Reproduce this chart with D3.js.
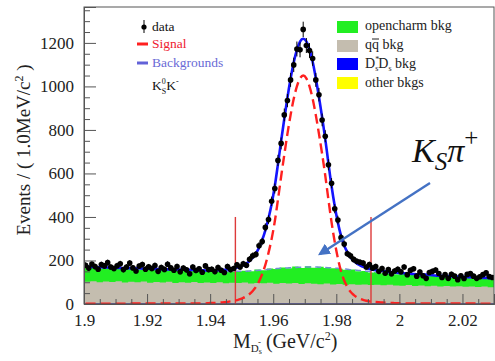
<!DOCTYPE html>
<html><head><meta charset="utf-8">
<script src="https://cdn.jsdelivr.net/npm/d3@7"></script>
<style>body{margin:0;background:#fff}svg{display:block}text{font-family:"Liberation Serif","Times New Roman",serif}</style>
</head><body><svg id="c" width="495" height="361"></svg>
<script>
// ---------------- data ----------------
const xStart = 1.9;          // first bin low edge (GeV)
const binW = 0.001;          // data / fit bin width
const stackW = 0.002;        // MC stack bin width
const xTicks = [1.9, 1.92, 1.94, 1.96, 1.98, 2.0, 2.02];
const xTickLabels = ["1.9", "1.92", "1.94", "1.96", "1.98", "2", "2.02"];
const yTicks = [0, 200, 400, 600, 800, 1000, 1200];

const dataCounts = [
 178,165,184,172,160,181,175,190,170,163,
 176,185,158,170,188,166,152,174,181,160,
 171,163,177,150,168,159,183,166,155,172,
 148,165,157,139,170,154,162,146,175,158,
 160,149,168,155,145,172,158,163,180,170,
 185,178,206,222,228,268,287,352,388,472,
 531,660,738,869,935,1030,1099,1172,1168,1262,
 1188,1165,1128,1030,962,846,771,640,555,438,
 386,305,276,231,222,205,196,192,188,170,
 181,165,172,150,163,141,158,139,152,160,
 148,170,135,155,162,128,147,130,118,145,
 150,156,140,122,135,118,137,128,112,130,
 117,136,140,128,118,125,135,143,126,122
];
const signalFit = [
 1,1,1,1,1,1,1,1,1,1,
 1,1,1,1,2,2,2,2,2,2,
 2,2,2,2,2,2,2,2,2,3,
 3,3,3,3,3,3,3,3,3,4,
 5,5,6,7,8,10,12,14,18,22,
 28,36,46,60,78,104,138,180,235,300,
 380,480,585,685,782,868,943,1000,1037,1050,
 1037,1000,943,868,782,690,590,480,375,285,
 210,150,108,78,56,42,31,24,19,15,
 12,10,9,8,7,6,5,5,4,4,
 3,3,3,3,3,3,3,3,3,3,
 2,2,2,2,2,2,2,2,2,2,
 2,2,2,2,2,1,1,1,1,1
];
const bkgFit = [
 170,170,169,169,168,168,167,167,166,166,
 165,165,164,164,163,163,162,162,161,161,
 160,160,159,159,158,158,157,157,156,156,
 155,155,154,154,153,153,152,152,151,151,
 150,150,150,149,149,149,149,150,150,150,
 151,151,152,153,154,155,156,158,159,160,
 162,163,164,165,166,167,168,168,169,169,
 170,170,170,170,169,169,168,167,166,165,
 164,163,161,160,158,157,155,154,152,151,
 149,148,147,146,145,144,143,142,141,140,
 139,138,137,136,135,134,133,133,132,131,
 130,129,128,128,127,126,125,125,124,123,
 123,122,121,121,120,120,119,119,118,118
];
const otherBkg = [
 1,1,1,1,1,1,1,1,1,1,1,1,1,1,1,1,1,1,1,1,1,1,1,1,1,1,1,1,1,1,1,1,1,
 1,1,1,1,1,1,1,1,1,1,1,1,1,1,1,1,1,1,1,1,1,1,1,1,1,1,1,1,1,1,1,1
];
const dsdsBkg = [
 3,3,3,3,3,3,3,3,3,3,3,3,3,3,3,3,3,3,3,3,3,3,3,3,3,3,3,3,3,3,3,3,3,
 3,3,3,3,3,3,3,3,3,3,3,3,3,3,3,3,3,3,3,3,3,3,3,3,3,3,3,3,3,3,3,3
];
const qqBkg = [
 98,101,96,99,97,100,95,98,96,99,
 94,97,95,98,93,96,94,97,92,95,
 93,96,91,94,92,95,90,93,91,94,
 89,92,90,93,88,91,89,87,90,86,
 88,85,87,84,86,83,85,82,84,81,
 80,83,79,81,78,80,77,79,76,78,
 75,77,74,76,73
];
const opencharmBkg = [
 65,66,63,67,61,63,62,64,58,60,
 63,56,60,57,55,58,53,55,57,53,
 55,52,56,50,55,54,57,61,60,65,
 68,72,70,75,73,78,74,80,72,74,
 70,68,67,63,62,58,59,55,56,52,
 55,51,53,47,50,47,45,46,43,44,
 41,43,40,42,39
];
const windowEdges = [1.948, 1.991];
const windowTop = 400;

// ---------------- chart ----------------
const svg = d3.select("#c");
const x = d3.scaleLinear().domain([1.9, 2.03]).range([84, 494]);
const y = d3.scaleLinear().domain([0, 1365]).range([304, 7]);
const X0 = 84, X1 = 494, Y0 = 304, Y1 = 7;

svg.append("defs").append("clipPath").attr("id", "clip")
  .append("rect").attr("x", X0).attr("y", Y1).attr("width", X1 - X0).attr("height", Y0 - Y1);
svg.select("defs").append("marker").attr("id", "arr").attr("viewBox", "0 0 10 10")
  .attr("refX", 8).attr("refY", 5).attr("markerWidth", 5).attr("markerHeight", 5)
  .attr("orient", "auto").attr("markerUnits", "strokeWidth")
  .append("path").attr("d", "M0,0 L10,5 L0,10 Z").attr("fill", "#4472c4");

const plot = svg.append("g").attr("clip-path", "url(#clip)");

// stacked MC histograms (step areas)
const nS = qqBkg.length;
const layers = [
  {vals: otherBkg, color: "#ffff00"},
  {vals: dsdsBkg, color: "#0000ff"},
  {vals: qqBkg, color: "#c4bdaf"},
  {vals: opencharmBkg, color: "#22ee22"}
];
let base = new Array(nS).fill(0);
const stacked = layers.map(l => {
  const lo = base.slice();
  const hi = base.map((b, i) => b + l.vals[i]);
  base = hi;
  return {lo, hi, color: l.color};
});
stacked.slice().reverse().forEach(s => {
  const pts = d3.range(nS + 1).map(i => ({x: xStart + i * stackW, lo: s.lo[Math.min(i, nS - 1)], hi: s.hi[Math.min(i, nS - 1)]}));
  plot.append("path").datum(pts)
    .attr("d", d3.area().x(d => x(d.x)).y0(d => y(0)).y1(d => y(d.hi)).curve(d3.curveStepAfter))
    .attr("fill", s.color);
});

const centers = dataCounts.map((_, i) => xStart + (i + 0.5) * binW);

// background fit (dashed)
plot.append("path").datum(bkgFit)
  .attr("d", d3.line().x((d, i) => x(centers[i])).y(d => y(d)).curve(d3.curveMonotoneX))
  .attr("fill", "none").attr("stroke", "#6f8fd0").attr("stroke-width", 1.5).attr("stroke-dasharray", "6,4");

// signal window lines
windowEdges.forEach(v => {
  plot.append("line").attr("x1", x(v)).attr("x2", x(v)).attr("y1", y(0)).attr("y2", y(windowTop))
    .attr("stroke", "#dd3a3a").attr("stroke-width", 1.4);
});

// signal (dashed red)
plot.append("path").datum(signalFit)
  .attr("d", d3.line().x((d, i) => x(centers[i])).y(d => y(d)).curve(d3.curveMonotoneX))
  .attr("fill", "none").attr("stroke", "#ff2020").attr("stroke-width", 2.4).attr("stroke-dasharray", "10,5");

// total fit
plot.append("path").datum(signalFit.map((s, i) => s + bkgFit[i]))
  .attr("d", d3.line().x((d, i) => x(centers[i])).y(d => y(d)).curve(d3.curveMonotoneX))
  .attr("fill", "none").attr("stroke", "#1414ff").attr("stroke-width", 2.6);

// data points
const dg = plot.append("g");
dataCounts.forEach((n, i) => {
  const e = Math.sqrt(n);
  dg.append("line").attr("x1", x(centers[i])).attr("x2", x(centers[i]))
    .attr("y1", y(n - e)).attr("y2", y(n + e)).attr("stroke", "#000").attr("stroke-width", 1);
  dg.append("circle").attr("cx", x(centers[i])).attr("cy", y(n)).attr("r", 2.8).attr("fill", "#000");
});

// frame
svg.append("rect").attr("x", X0).attr("y", Y1).attr("width", X1 - X0).attr("height", Y0 - Y1)
  .attr("fill", "none").attr("stroke", "#555").attr("stroke-width", 1);

// axes
const yAx = svg.append("g").attr("transform", `translate(${X0},0)`)
  .call(d3.axisLeft(y).tickValues(yTicks).tickSize(-12).tickPadding(10).tickFormat(d3.format("d")));
const yMinor = svg.append("g").attr("transform", `translate(${X0},0)`)
  .call(d3.axisLeft(y).tickValues(d3.range(0, 1365, 50).filter(v => v % 200 !== 0)).tickSize(-6).tickFormat(""));
const xAx = svg.append("g").attr("transform", `translate(0,${Y0})`)
  .call(d3.axisBottom(x).tickValues(xTicks).tickSize(-10).tickPadding(10).tickFormat((d, i) => xTickLabels[i]));
const xMinor = svg.append("g").attr("transform", `translate(0,${Y0})`)
  .call(d3.axisBottom(x).tickValues(d3.range(0, 27).map(k => 1.9 + k * 0.005).filter((v, k) => k % 4 !== 0)).tickSize(-5).tickFormat(""));
[yAx, yMinor, xAx, xMinor].forEach(g => {
  g.select(".domain").attr("stroke", "#555");
  g.selectAll(".tick line").attr("stroke", "#555");
  g.selectAll("text").attr("font-family", "Liberation Serif").attr("font-size", 17).attr("fill", "#222");
});

// axis titles
const yt = svg.append("text").attr("transform", "translate(30,150) rotate(-90)")
  .attr("text-anchor", "middle").attr("font-size", 19).attr("fill", "#222");
yt.append("tspan").text("Events / ( 1.0MeV/c");
yt.append("tspan").attr("font-size", 12).attr("dy", -7).text("2");
yt.append("tspan").attr("dy", 7).text(" )");

const xt = svg.append("text").attr("x", 233).attr("y", 348).attr("font-size", 20).attr("fill", "#222");
xt.append("tspan").text("M");
xt.append("tspan").attr("font-size", 11).attr("dy", 4).text("D");
xt.append("tspan").attr("font-size", 8).attr("dy", 2).text("s");
xt.append("tspan").attr("font-size", 9).attr("dx", -4).attr("dy", -9).text("-");
xt.append("tspan").attr("dy", 3).text(" (GeV/c");
xt.append("tspan").attr("font-size", 12).attr("dy", -8).text("2");
xt.append("tspan").attr("dy", 8).text(")");

// left legend
svg.append("line").attr("x1", 144).attr("x2", 144).attr("y1", 20).attr("y2", 33).attr("stroke", "#000");
svg.append("circle").attr("cx", 144).attr("cy", 27).attr("r", 2.6).attr("fill", "#000");
svg.append("text").attr("x", 152).attr("y", 31).attr("font-size", 13.5).attr("fill", "#111").text("data");
svg.append("line").attr("x1", 137).attr("x2", 148).attr("y1", 44).attr("y2", 44).attr("stroke", "#ff2020").attr("stroke-width", 3);
svg.append("text").attr("x", 152).attr("y", 48).attr("font-size", 13.5).attr("fill", "#ee2030").text("Signal");
svg.append("line").attr("x1", 137).attr("x2", 148).attr("y1", 63).attr("y2", 63).attr("stroke", "#6262d8").attr("stroke-width", 3);
svg.append("text").attr("x", 152).attr("y", 67).attr("font-size", 13.5).attr("fill", "#6a6ad6").text("Backgrounds");
const kk = svg.append("text").attr("x", 152).attr("y", 90).attr("font-size", 13.5).attr("fill", "#111");
kk.append("tspan").text("K");
kk.append("tspan").attr("font-size", 8).attr("dy", -6).text("0");
kk.append("tspan").attr("font-size", 8).attr("dx", -4).attr("dy", 10).text("S");
kk.append("tspan").attr("dy", -4).text("K");
kk.append("tspan").attr("font-size", 8).attr("dy", -6).text("-");

// right legend
const rl = [
  {c: "#22ee22", y: 21},
  {c: "#c4bdaf", y: 40},
  {c: "#0000ff", y: 58},
  {c: "#ffff00", y: 77}
];
rl.forEach(r => svg.append("rect").attr("x", 337).attr("y", r.y).attr("width", 21).attr("height", 12).attr("fill", r.c));
svg.append("text").attr("x", 365).attr("y", 30).attr("font-size", 14).attr("fill", "#222").text("opencharm bkg");
svg.append("text").attr("x", 365).attr("y", 49).attr("font-size", 14).attr("fill", "#222").text("qq bkg");
svg.append("line").attr("x1", 372).attr("x2", 379).attr("y1", 39).attr("y2", 39).attr("stroke", "#222").attr("stroke-width", 1);
const dt = svg.append("text").attr("x", 365).attr("y", 68).attr("font-size", 14).attr("fill", "#222");
dt.append("tspan").text("D");
dt.append("tspan").attr("font-size", 8).attr("dy", -6).text("*");
dt.append("tspan").attr("font-size", 8).attr("dx", -4).attr("dy", 9).text("s");
dt.append("tspan").attr("dy", -3).text("D");
dt.append("tspan").attr("font-size", 8).attr("dy", 3).text("s");
dt.append("tspan").attr("dy", -3).text(" bkg");
svg.append("text").attr("x", 365).attr("y", 87).attr("font-size", 14).attr("fill", "#222").text("other bkgs");

// annotation
const an = svg.append("text").attr("x", 412).attr("y", 162).attr("font-size", 34).attr("font-style", "italic").attr("fill", "#111");
an.append("tspan").text("K");
an.append("tspan").attr("font-size", 25).attr("dy", 8).text("S");
an.append("tspan").attr("dy", -8).text("π");
an.append("tspan").attr("font-size", 25).attr("font-style", "normal").attr("dy", -16).text("+");
svg.append("line").attr("x1", 430).attr("y1", 183).attr("x2", 320).attr("y2", 254)
  .attr("stroke", "#4472c4").attr("stroke-width", 2.4).attr("marker-end", "url(#arr)");
</script></body></html>
